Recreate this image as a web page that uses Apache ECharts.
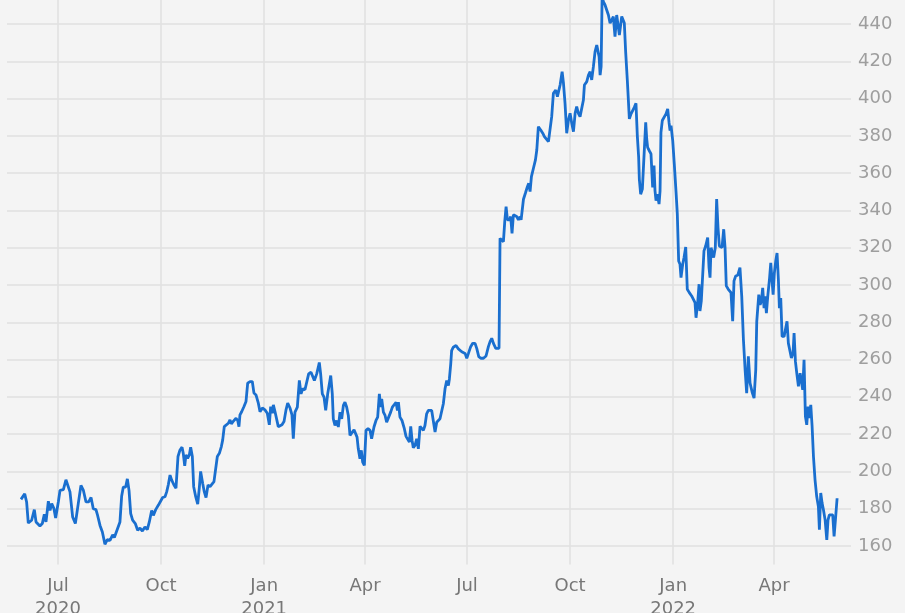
<!DOCTYPE html>
<html><head><meta charset="utf-8">
<script src="https://cdn.jsdelivr.net/npm/echarts@6/dist/echarts.min.js"></script>
<style>
html,body{margin:0;padding:0;background:#f4f4f4;overflow:hidden;width:905px;height:613px;}
#chart{position:absolute;left:0;top:0;width:905px;height:613px;}
</style></head><body><div id="chart"></div>
<script>
// Days after the base date, and the closing price read at each
const baseDate = '2020-07-01';
const dayOffsets = [
-33,-29.7,-28,-26.5,-23.5,-21.1,-19.6,-16.1,-14,-12.2,-10.7,-8.6,-7.1,-5.6,-3.6,-2.1,0.3,1.8,4.8,7.1,8.6,10.7,13.1,15.5,18.1,20.5,22.6,25,27.4,29.5,31.5,33.9,35.1,37.5,39.6,41.9,44,46.4,48.8,50.3,52.4,55.3,56.8,58.3,60.4,61.9,63.4,64.9,66.6,69,71.1,73.2,75.3,77.6,79.7,81.5,83.6,85.1,87.2,89.5,91,
93.4,95.5,97,98.5,100,101.4,103.5,105.3,107.1,108.9,110.7,111.8,113.1,114.2,115.7,117.2,118.4,119.9,121.1,122.9,124.7,126.1,127.3,129.1,130.6,132.1,133.9,135.7,137.4,139.2,140.7,142.2,144,145.8,147,148.4,149.9,152,153.5,154.7,156.2,157.7,158.9,160.4,161.5,162.4,163.9,166,167.8,169.3,171.4,173.4,174.9,176.7,178.8,180.3,182.4,184.7,186.8,188.6,189.8,191.3,192.2,193.7,195.2,196.6,198.1,199.9,201.7,203.5,205,207.1,208.8,
210,211.5,213.6,215.4,216.9,218.4,220.4,221.9,223.7,225.8,227.3,228.8,230.9,232.3,233.2,234.4,235.9,237.4,238.9,240.7,242.2,243.4,244.8,245.7,247.2,248.7,250.2,251.7,253.2,254.7,256.1,257.6,259.1,260.6,262.1,264.2,265.7,266.9,268,269.5,270.7,271.9,273.4,274.9,276.7,278.5,279.9,282,283.8,285.3,286.8,288,288.9,290.4,291.9,293.3,295.1,296.9,298.4,299.9,301.7,302.9,303.8,305.2,307,309.1,310.6,311.8,313.6,314.8,316,317.1,318.6,320.1,321.6,323.1,324.6,326.1,327.5,329,330.5,332,333.5,335,336.5,338,339.4,340.9,342.4,343.9,345.4,346.9,348.4,349.3,350.5,351.3,352.8,355.2,357.3,358.8,
360.3,363.3,364.8,366.3,368.3,370.1,372.2,373.7,375.5,377.3,379.7,382,384.1,385.6,387.1,388.6,390.7,392.1,393.6,394.5,396,397.5,398.7,399.9,401.1,402.9,404,405.2,406.4,407.9,409.4,410.9,412.4,413.3,414.5,415.4,417.1,418.9,420.1,421.3,422.5,424.3,426.1,427.3,428.7,430.8,432.6,434.1,435.6,437.7,439.2,440.6,442.1,444.2,445.7,448.1,449.9,451.1,452.5,454,455.5,457,458.5,460,461.5,462.9,464.4,465.9,467.4,468.9,469.8,471.9,473.4,474.9,476.3,477.8,479.3,480.8,482,482.9,483.8,484.7,485.6,486.7,488.2,489.7,491.2,492.7,495.6,497.1,498.6,501,503.1,505.4,506.6,
508.1,509.9,511.4,512.9,514.3,515.8,517,518.2,518.8,520,521.5,523,524.5,525.4,526.2,527.7,529.2,530.7,531.9,532.8,533.7,534.9,536.4,537.3,538.1,539.3,540.8,542.6,544.1,545.3,546.2,547.1,548.6,550,551.5,552.7,553.9,555.1,556,557.5,558.7,560.2,561.6,563.4,565.5,567,568.5,569.4,570.9,572.1,572.9,574.1,575.3,576.5,578,579.8,581,581.9,582.8,584,585.1,586.6,587.8,589,590.2,591.4,592.6,594.1,595.3,596.4,598.2,600.6,602.1,603.3,604.8,606.6,608.6,
610.2,611.7,613.2,614.6,616.1,617.6,619.7,621.2,622.7,623.6,624.5,625.4,626.6,627.7,628.9,630.1,631,632.2,633.4,634.9,636.1,637.3,638.2,639.3,640.5,641.7,642.9,643.8,645,646.2,648,649.2,650.6,651.8,653,654.5,656,656.9,658.1,659.3,660.8,662.3,663.4,664.6,665.8,667,668.2,669.4,670.6,671.8,673,674.2,675.6,677.1,678.6,679.5,680.7,681.9,683.1,684.6,686.1,687.2,688.4,689.9,691.4,692.6,693.8,695.3
];
const prices = [
185,188,183.6,172.3,173.8,179.5,172.9,170.7,172,177,172.9,184,179,182.7,180,175,183.6,189.8,190.2,195.5,195,189,175.5,172,182.7,192.5,190,183.6,183.6,186,180,179.5,177,171,167.5,160.9,163.4,163,166,164.5,168,172.9,186.6,191.6,191.6,196,189.8,177.3,173.8,172,168.4,169.6,168,170.2,168.8,172.9,179,176.4,179.5,181.8,182.7,
186,186.4,189,193,198,195.4,192.7,191,208,211.5,213,209.7,203,208.8,207,208.8,213,208,191.8,186.4,182.5,191,200,193.6,189,186,192.7,191.8,191,194.5,193.6,208,209.7,213.3,216.9,224,225,225.8,227.6,225.5,226.7,225.8,228.5,227.3,224,230.3,232,234.8,237.5,247.3,248.2,248.2,242,241,236.6,232,234,233,231.2,225,234.8,231.2,235.7,232,233,224,223,225,226.7,233,236.6,234,230.3,
217.5,231.8,234.5,248.8,241.6,244.3,243.8,244.3,252.3,253.2,252.7,248.8,252.3,255.9,258.4,252.3,241.6,239.8,232.7,241.6,247,251.4,241.6,228.2,224.6,227.3,223.8,231.8,228.2,235.4,237.1,234.5,230,219.3,220.2,222.3,222,218.4,212.1,206.8,211.3,205,203.2,222,222.9,222,217.5,223.8,227.3,229.1,241.6,234.5,238.9,231.8,230,226.4,229.1,231.8,234.5,235.4,237.1,232.7,237.1,229.1,227.3,222.9,218.8,218.4,215.7,224.1,216.6,212.7,213.9,217.5,212.1,224.1,223.4,222,224.6,230.9,232.7,233,232.7,231.8,221.1,226.4,227.3,228.2,229.1,236.3,244.3,248.8,246.1,249.6,257.7,264.8,266.6,267.5,265.7,264.8,
264.2,263.3,260.7,263.3,266.9,268.7,268.7,266,261.6,260.7,260.7,261.9,266.9,269.6,271.4,268.7,266,266.9,266,325,324.1,323.2,334,342,334.9,334.9,336.7,327.7,337.6,337.6,336.7,334.9,336.7,334.9,335.8,346,349.2,352.7,354.5,350.1,358.1,362.6,367.1,372.4,384.9,383.1,381.4,379.6,379.6,376.9,376.9,390.3,402.8,404.6,401,407.3,414.4,408.2,397.4,381.4,388.5,392.1,386.7,382.2,392.1,395.7,392.1,390.3,389.4,399.2,407.3,409.1,412.6,414.4,410,417.1,425.2,428.7,427.8,422.5,412.6,417.1,455,452,450.2,449.3,444.8,440.4,444,433.2,444.8,434.1,444,440.5,425,
409.7,389.1,391.8,391.8,395.3,397.5,380.1,368.5,356.8,348.7,351.4,352.3,387.3,378.3,373.8,372,370.3,352.3,364,350.5,345.2,348.7,343.4,350.5,381.9,388.2,389.1,391.8,394.4,387.3,382.8,385.5,377.4,364.9,350.5,338,312.9,311.1,303.9,311.1,314.7,320.4,297.7,295.9,294.1,293.2,290.5,282.4,290.5,300.4,286,291.4,290.5,318.3,320.9,325.4,309.3,303.9,320,320,314.7,320,346.1,330.8,320.9,320,320,329.9,320,299.5,297.7,295.9,280.6,302.2,304.8,305.2,309.3,
293.9,270.6,254.5,242,261.7,247.4,242,239.3,254.5,280.5,281.4,294.8,289.4,291.2,298.4,287.6,293.9,284.9,293.9,302.8,311.8,301.9,294.8,306.4,312.7,317.1,302.8,287.6,293,272.4,272.4,271.5,280.5,268.8,265.3,260.8,263.5,274.2,259,252.7,245.6,252.7,253.6,243.8,259.9,229.5,225,234.8,228.6,235.7,224.1,208,195.5,186.5,181.2,168.7,188.4,183,179.4,174,163.3,174,176.7,177.6,176.7,165.1,174,185.6
];
const xTickDates = ['2020-07-01','2020-10-01','2021-01-01','2021-04-01','2021-07-01','2021-10-01','2022-01-01','2022-04-01'];
const xTickLabels = ['Jul\n2020','Oct','Jan\n2021','Apr','Jul','Oct','Jan\n2022','Apr'];
const yTickValues = [160,180,200,220,240,260,280,300,320,340,360,380,400,420,440];
const xRangeDays = [-45.5, 707.7];
const yRange = [150, 460];

const DAY = 86400000;
const base = Date.parse(baseDate);
const seriesData = dayOffsets.map((d, i) => [d, prices[i]]);
const tickDays = xTickDates.map(s => Math.round((Date.parse(s) - base) / DAY));

const chart = echarts.init(document.getElementById('chart'), null, {renderer: 'canvas'});
chart.setOption({
  animation: false,
  backgroundColor: '#f4f4f4',
  textStyle: {fontFamily: 'DejaVu Sans'},
  grid: {left: 7, right: 54, top: -13.3, bottom: 48.4, containLabel: false, outerBoundsMode: 'none'},
  xAxis: {
    type: 'value',
    min: xRangeDays[0],
    max: xRangeDays[1],
    axisLine: {show: false},
    axisTick: {show: false, customValues: tickDays},
    axisLabel: {
      customValues: tickDays,
      margin: 10,
      fontSize: 18,
      lineHeight: 23,
      color: '#777777',
      fontFamily: 'DejaVu Sans',
      formatter: function (v) {
        const i = tickDays.indexOf(Math.round(v));
        return i >= 0 ? xTickLabels[i] : '';
      }
    },
    splitLine: {show: true, lineStyle: {color: '#e0e0e0', width: 1.5}}
  },
  yAxis: {
    type: 'value',
    position: 'right',
    min: yRange[0],
    max: yRange[1],
    interval: 10,
    axisLine: {show: false},
    axisTick: {show: false},
    axisLabel: {
      margin: 7,
      fontSize: 18,
      color: '#9e9e9e',
      fontFamily: 'DejaVu Sans',
      formatter: function (v) { return yTickValues.indexOf(v) >= 0 ? String(v) : ''; }
    },
    splitLine: {show: true, lineStyle: {color: ['rgba(0,0,0,0)', '#e0e0e0'], width: 1.5}}
  },
  series: [{
    type: 'line',
    data: seriesData,
    showSymbol: false,
    symbol: 'none',
    lineStyle: {color: '#1a6fcf', width: 2.8},
    itemStyle: {color: '#1a6fcf'}
  }]
});
</script></body></html>
